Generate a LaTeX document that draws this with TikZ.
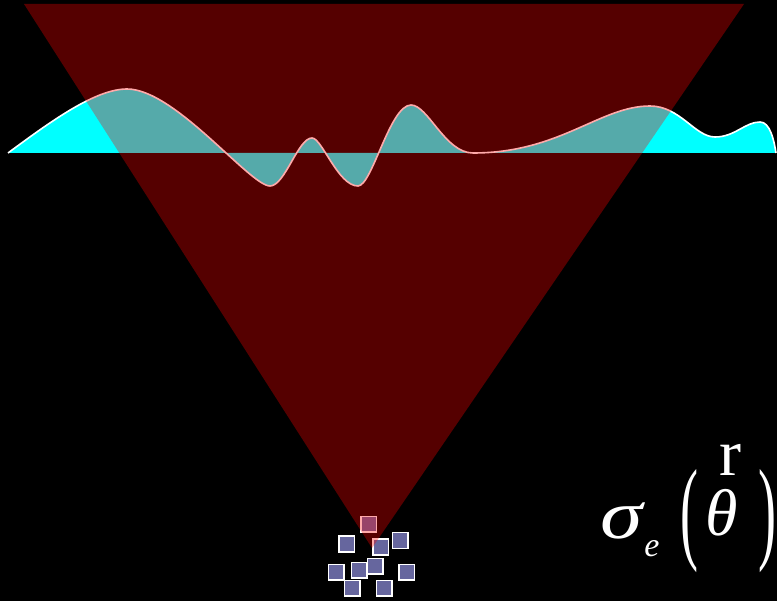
\documentclass[tikz,border=0pt]{standalone}
\usepackage{fontspec}
\newfontfamily\glyphfont{Liberation Serif}
\usetikzlibrary{positioning}
\definecolor{tileblue}{RGB}{102,102,158}
\definecolor{specfill}{RGB}{0,255,255}
\definecolor{conered}{RGB}{255,0,0}
\tikzset{
  tile/.style={rectangle, draw=white, line width=1.5pt, fill=tileblue,
              minimum size=15.5pt, inner sep=0pt},
  wave/.style={draw=white, line width=1.6pt},
  cone/.style={fill=conered, fill opacity=0.333},
  sym/.style={text=white, inner sep=0pt, font=\glyphfont\fontsize{66}{66}\selectfont},
  subsym/.style={text=white, inner sep=0pt, font=\glyphfont\fontsize{34}{34}\selectfont},
  paren/.style={text=white, inner sep=0pt, font=\glyphfont\fontsize{60}{60}\selectfont},
}

\begin{document}
\begin{tikzpicture}[x=1pt, y=-1pt]
  \fill[black] (0,0) rectangle (777,601);
  \useasboundingbox (0,0) rectangle (777,601);
  % spectrum
  \fill[specfill] (8,153) .. controls (50,122) and (95,89) .. (127,89)
      .. controls (175,89) and (250,186) .. (270,186)
      .. controls (285,186) and (298,138) .. (312,138)
      .. controls (322,138) and (338,186) .. (358,186)
      .. controls (372,186) and (390,105) .. (411,105)
      .. controls (428,105) and (445,153) .. (473,153)
      .. controls (560,153) and (600,106) .. (650,106)
      .. controls (680,106) and (695,137) .. (715,137)
      .. controls (735,137) and (745,122) .. (760,122)
      .. controls (770,122) and (774,140) .. (776,153) -- cycle;
  \draw[wave] (8,153) .. controls (50,122) and (95,89) .. (127,89)
      .. controls (175,89) and (250,186) .. (270,186)
      .. controls (285,186) and (298,138) .. (312,138)
      .. controls (322,138) and (338,186) .. (358,186)
      .. controls (372,186) and (390,105) .. (411,105)
      .. controls (428,105) and (445,153) .. (473,153)
      .. controls (560,153) and (600,106) .. (650,106)
      .. controls (680,106) and (695,137) .. (715,137)
      .. controls (735,137) and (745,122) .. (760,122)
      .. controls (770,122) and (774,140) .. (776,153);
  % tiles
  \foreach \x/\y [count=\i] in {368.5/524.5, 346.5/544, 380.5/547, 400/540.5, 336/572,
                                 359/570, 375/566, 406.5/572, 352/588, 384/588}
    \node[tile] (t\i) at (\x,\y) {};
  % cone
  \fill[cone] (24,4) -- (744,4) -- (372,548) -- cycle;
  % label
  \node[sym] (sig) at (622,521) {\scalebox{1.3}[1.05]{\itshape σ}};
  \node[subsym] (sub) at (652,549) {\itshape e};
  \node[sym] (theta) at (722,513) {\itshape θ};
  \node[sym] (arr) at (730,460) {r};
  \node[paren] (lpar) at (689,521) {\scalebox{0.9}[1.9]{(}};
  \node[paren] (rpar) at (767,521) {\scalebox{0.9}[1.9]{)}};
\end{tikzpicture}
\end{document}
